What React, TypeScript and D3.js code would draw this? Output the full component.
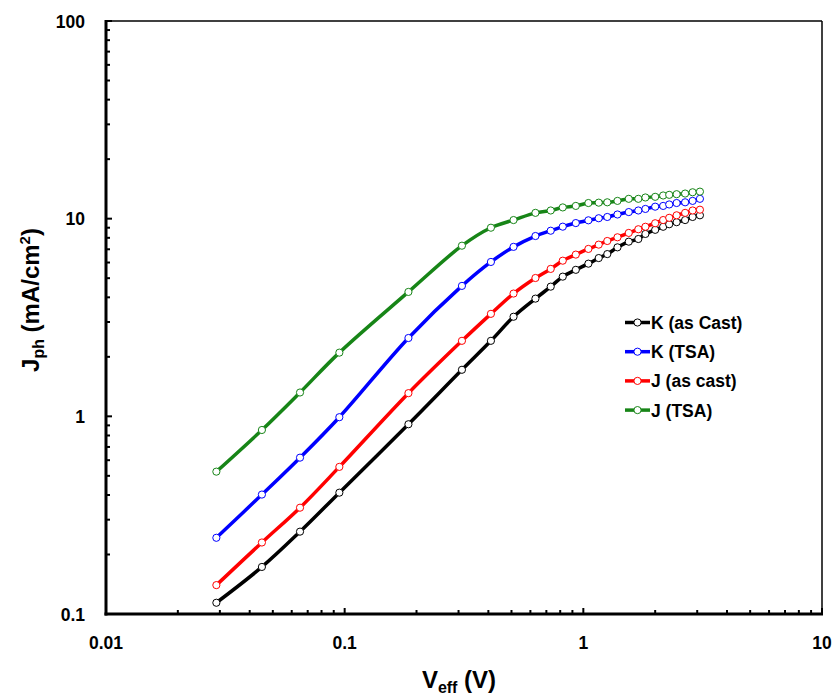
import React, { useEffect, useRef } from 'react';
import * as d3 from 'd3';

// V_eff (V), shared by all four series
const veff = [0.029, 0.045, 0.065, 0.095, 0.185, 0.31, 0.41, 0.51, 0.63, 0.73, 0.82, 0.93, 1.05,
  1.16, 1.26, 1.39, 1.55, 1.70, 1.82, 2.0, 2.16, 2.29, 2.46, 2.67, 2.87, 3.08];

const kAsCast = [0.114, 0.173, 0.261, 0.411, 0.912, 1.72, 2.41, 3.19, 3.94, 4.53, 5.09, 5.51, 5.92,
  6.32, 6.62, 7.16, 7.65, 7.89, 8.37, 8.78, 9.1, 9.37, 9.6, 9.84, 10.2, 10.4];
const kTSA = [0.243, 0.402, 0.618, 0.99, 2.49, 4.57, 6.04, 7.2, 8.17, 8.69, 9.11, 9.5, 9.81,
  10.05, 10.2, 10.5, 10.8, 11.0, 11.2, 11.5, 11.6, 11.8, 12.0, 12.1, 12.3, 12.6];
const jAsCast = [0.140, 0.230, 0.345, 0.555, 1.31, 2.41, 3.30, 4.18, 5.01, 5.57, 6.13, 6.58, 7.03,
  7.39, 7.71, 8.05, 8.47, 8.84, 9.1, 9.48, 9.84, 10.1, 10.4, 10.7, 11.0, 11.1];
const jTSA = [0.525, 0.853, 1.32, 2.10, 4.26, 7.3, 9.0, 9.84, 10.7, 11.0, 11.4, 11.6, 12.0,
  12.05, 12.1, 12.3, 12.6, 12.6, 12.8, 12.9, 13.1, 13.2, 13.3, 13.4, 13.6, 13.7];

const seriesNames = ['K (as Cast)', 'K (TSA)', 'J (as cast)', 'J (TSA)'];
const seriesValues = [kAsCast, kTSA, jAsCast, jTSA];
const seriesColors = ['#000000', '#0000ff', '#ff0000', '#178517'];

const xTickLabels = ['0.01', '0.1', '1', '10'];
const yTickLabels = ['0.1', '1', '10', '100'];

const App = () => {
  const ref = useRef<SVGSVGElement | null>(null);

  useEffect(() => {
    const svg = d3.select(ref.current);
    svg.selectAll('*').remove();

    const left = 106, right = 822, top = 21, bottom = 614;
    const font = '"Liberation Sans", Arial, sans-serif';

    const x = d3.scaleLog().domain([0.01, 10]).range([left, right]);
    const y = d3.scaleLog().domain([0.1, 100]).range([bottom, top]);

    // minor + major ticks, pointing inward
    const xTicks = x.ticks();
    const yTicks = y.ticks();
    const isMajor = (v: number) => Math.abs(Math.log10(v) - Math.round(Math.log10(v))) < 1e-6;

    svg.append('g').selectAll('line').data(xTicks).enter().append('line')
      .attr('x1', d => x(d)).attr('x2', d => x(d))
      .attr('y1', bottom).attr('y2', d => bottom - (isMajor(d) ? 6 : 4))
      .attr('stroke', '#000').attr('stroke-width', 2);

    svg.append('g').selectAll('line').data(yTicks).enter().append('line')
      .attr('y1', d => y(d)).attr('y2', d => y(d))
      .attr('x1', left).attr('x2', d => left + (isMajor(d) ? 6 : 4))
      .attr('stroke', '#000').attr('stroke-width', 2);

    // frame: thin top/right, thick left/bottom
    svg.append('line').attr('x1', left).attr('x2', right).attr('y1', top).attr('y2', top)
      .attr('stroke', '#000').attr('stroke-width', 1.5);
    svg.append('line').attr('x1', right).attr('x2', right).attr('y1', top).attr('y2', bottom)
      .attr('stroke', '#000').attr('stroke-width', 1.5);
    svg.append('line').attr('x1', left).attr('x2', left).attr('y1', top - 1).attr('y2', bottom + 1.5)
      .attr('stroke', '#000').attr('stroke-width', 3);
    svg.append('line').attr('x1', left - 1.5).attr('x2', right + 1).attr('y1', bottom).attr('y2', bottom)
      .attr('stroke', '#000').attr('stroke-width', 3);

    // tick labels
    svg.append('g').selectAll('text').data(xTickLabels).enter().append('text')
      .attr('x', d => x(+d)).attr('y', 649)
      .attr('text-anchor', 'middle')
      .attr('font-family', font).attr('font-weight', 'bold').attr('font-size', 17.5)
      .text(d => d);

    svg.append('g').selectAll('text').data(yTickLabels).enter().append('text')
      .attr('x', 85).attr('y', d => y(+d) + 6.5)
      .attr('text-anchor', 'end')
      .attr('font-family', font).attr('font-weight', 'bold').attr('font-size', 17.5)
      .text(d => d);

    // axis titles
    const xt = svg.append('text')
      .attr('x', 459).attr('y', 688)
      .attr('text-anchor', 'middle')
      .attr('font-family', font).attr('font-weight', 'bold').attr('font-size', 24);
    xt.append('tspan').text('V');
    xt.append('tspan').attr('font-size', 16).attr('dy', 5).text('eff');
    xt.append('tspan').attr('dy', -5).text(' (V)');

    const yt = svg.append('text')
      .attr('transform', 'translate(39,300) rotate(-90)')
      .attr('text-anchor', 'middle')
      .attr('font-family', font).attr('font-weight', 'bold').attr('font-size', 24);
    yt.append('tspan').text('J');
    yt.append('tspan').attr('font-size', 16).attr('dy', 5).text('ph');
    yt.append('tspan').attr('dy', -5).text(' (mA/cm');
    yt.append('tspan').attr('font-size', 15).attr('dy', -9).text('2');
    yt.append('tspan').attr('dy', 9).text(')');

    // series
    const line = d3.line<number>()
      .x((_, i) => x(veff[i]))
      .y(d => y(d))
      .curve(d3.curveCatmullRom.alpha(0.5));

    seriesValues.forEach((vals, s) => {
      const g = svg.append('g');
      g.append('path')
        .attr('d', line(vals))
        .attr('fill', 'none')
        .attr('stroke', seriesColors[s])
        .attr('stroke-width', 3.5);
      g.selectAll('circle').data(vals).enter().append('circle')
        .attr('cx', (_, i) => x(veff[i]))
        .attr('cy', d => y(d))
        .attr('r', 3.6)
        .attr('fill', '#fff')
        .attr('stroke', seriesColors[s])
        .attr('stroke-width', 1);
    });

    // legend
    const legend = svg.append('g');
    seriesNames.forEach((name, s) => {
      const cy = 322.5 + s * 29.2;
      legend.append('line').attr('x1', 625).attr('x2', 650).attr('y1', cy).attr('y2', cy)
        .attr('stroke', seriesColors[s]).attr('stroke-width', 3.5);
      legend.append('circle').attr('cx', 637.5).attr('cy', cy).attr('r', 3.6)
        .attr('fill', '#fff').attr('stroke', seriesColors[s]).attr('stroke-width', 1);
      legend.append('text').attr('x', 651).attr('y', cy + 6.5)
        .attr('font-family', font).attr('font-weight', 'bold').attr('font-size', 17.5)
        .text(name);
    });
  }, []);

  return (
    <svg ref={ref} width={837} height={696}
      style={{ position: 'absolute', left: 0, top: 0, background: '#fff' }} />
  );
};

export default App;
